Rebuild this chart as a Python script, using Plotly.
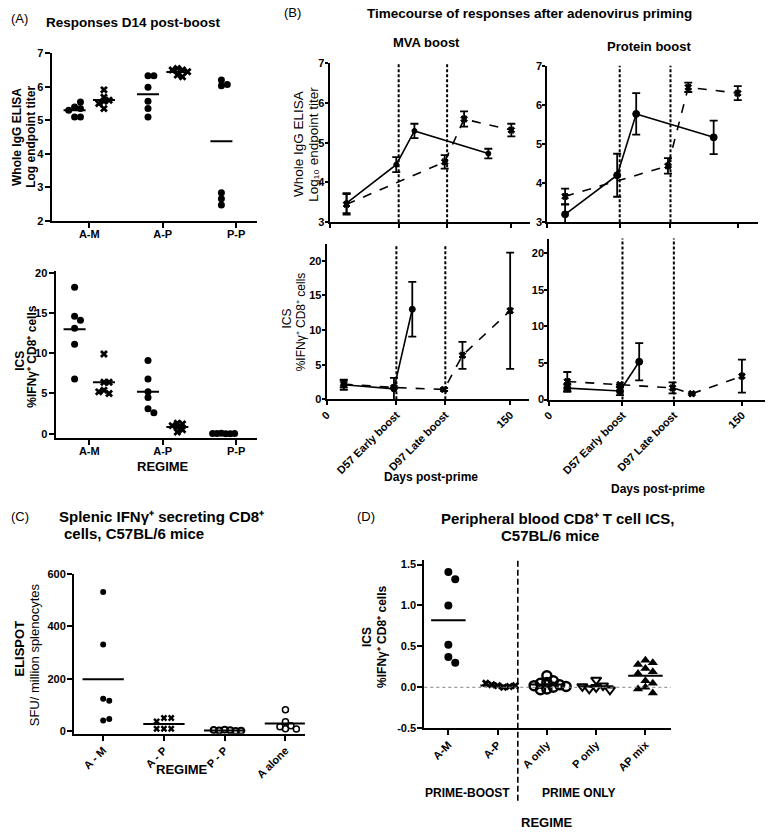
import plotly.graph_objects as go
import numpy as np

W, H = 768, 837
FONT = "Liberation Sans, Arial, sans-serif"

# ---------------- DATA ----------------
# Panel A: responses D14 post-boost
A_cats = ['A-M', 'A-P', 'P-P']
A_elisa_circ = [[5.40, 5.35, 5.30, 5.55, 5.10, 5.10],
                [6.33, 6.33, 5.99, 5.57, 5.35, 5.10],
                [6.20, 6.03, 6.07, 2.84, 2.66, 2.47]]
A_elisa_cross = [[5.91, 5.69, 5.60, 5.57, 5.50, 5.35],
                 [6.55, 6.50, 6.50, 6.45, 6.35, 6.30]]
A_ics_circ = [[18.2, 14.6, 14.1, 13.1, 11.1, 6.8],
              [9.1, 6.8, 5.2, 4.5, 3.1, 2.6],
              [0.05, 0.0, 0.02, 0.0, 0.03, 0.01]]
A_ics_cross = [[9.9, 6.4, 6.4, 5.4, 5.0, 5.2],
               [1.3, 1.2, 1.0, 0.8, 0.5, 0.2]]

# Panel B: timecourse
B_tick_days = [0, 57, 97, 150]
B_tick_text = ['0', 'D57 Early boost', 'D97 Late boost', '150']
B_boost_days = [57, 97]
early_days_elisa = [14, 55, 70, 131]
late_days_elisa = [14, 95, 111, 150]
mva_elisa_early = [3.48, 4.45, 5.30, 4.73]
mva_elisa_early_err = [0.25, 0.19, 0.18, 0.12]
mva_elisa_late = [3.45, 4.52, 5.60, 5.32]
mva_elisa_late_err = [0.26, 0.17, 0.19, 0.16]
prot_elisa_early = [3.20, 4.20, 5.77, 5.17]
prot_elisa_early_err = [0.25, 0.55, 0.53, 0.43]
prot_elisa_late = [3.66, 4.44, 6.45, 6.30]
prot_elisa_late_err = [0.20, 0.20, 0.12, 0.18]

early_days_ics = [14, 55, 70]
late_days_ics = [14, 55, 96, 111, 150]
mva_ics_early = [2.1, 1.5, 13.0]
mva_ics_early_err = [0.75, 1.6, 3.95]
mva_ics_late = [2.2, 1.7, 1.42, 6.35, 12.8]
mva_ics_late_err = [0.5, 0.0, 0.2, 1.95, 8.4]
prot_ics_early = [1.56, 1.17, 5.17]
prot_ics_early_err = [0.5, 0.55, 2.55]
prot_ics_late = [2.47, 2.05, 1.6, 0.8, 3.2]
prot_ics_late_err = [1.3, 0.0, 0.75, 0.0, 2.25]

# Panel C: ELISPOT
C_cats = ['A - M', 'A - P', 'P - P', 'A alone']
C_AM = [530, 330, 123, 116, 40, 46]
C_AP = [50, 50, 37, 9, 9, 9]
C_PP = [5, 3, 2, 0, 4, 1]
C_Aalone = [81, 36, 20, 17, 9, 8]

# Panel D: peripheral blood ICS
D_cats = ['A-M', 'A-P', 'A only', 'P only', 'AP mix']
D_AM = [1.41, 1.32, 1.00, 0.52, 0.37, 0.30]
D_AP = [0.02, 0.00, 0.03, 0.01, 0.05, 0.02]
D_Aonly = [0.14, 0.08, 0.06, 0.05, 0.03, 0.02, 0.01, 0.00, -0.02, -0.03]
D_Ponly = [0.09, 0.02, 0.00, -0.02, -0.03, 0.01]
D_APmix = [0.33, 0.30, 0.28, 0.23, 0.19, 0.17, 0.08, 0.05, 0.00, -0.02, -0.07]


# ---------------- HELPERS ----------------
def px(x):
    return x / W


def py(y):
    return 1 - y / H


def swarm(vals, thresh, step):
    offs = []
    for i, v in enumerate(vals):
        cands = [0.0]
        for k in range(1, 12):
            cands += [k * step, -k * step]
        for c in cands:
            ok = True
            for j in range(i):
                if abs(v - vals[j]) < thresh and abs(c - offs[j]) < step * 0.99:
                    ok = False
                    break
            if ok:
                offs.append(c)
                break
    return offs


fig = go.Figure()


def dots(ax, center, vals, symbol, size, thresh, step, lw, halfw):
    offs = swarm(vals, thresh, step)
    xs = [center + o for o in offs]
    fig.add_trace(go.Scatter(
        x=xs, y=vals, mode='markers', xaxis='x' + ax, yaxis='y' + ax,
        marker=dict(symbol=symbol, size=size, color='black',
                    line=dict(color='black', width=lw)),
        showlegend=False, hoverinfo='skip'))
    m = float(np.mean(vals))
    fig.add_trace(go.Scatter(
        x=[center - halfw, center + halfw], y=[m, m], mode='lines',
        xaxis='x' + ax, yaxis='y' + ax, line=dict(color='black', width=2),
        showlegend=False, hoverinfo='skip'))


def tline(ax, days, vals, errs, dash, symbol, size):
    fig.add_trace(go.Scatter(
        x=days, y=vals, mode='lines+markers', xaxis='x' + ax, yaxis='y' + ax,
        line=dict(color='black', width=1.6, dash=dash),
        marker=dict(symbol=symbol, size=size, color='black',
                    line=dict(color='black', width=1)),
        error_y=dict(type='data', array=errs, visible=True, color='black',
                     thickness=1.8, width=4),
        showlegend=False, hoverinfo='skip'))


# ---------------- PANEL A ----------------
for i in range(3):
    dots('', i + 1 - 0.2, A_elisa_circ[i], 'circle', 7, 0.15, 0.08, 0, 0.15)
for i in range(2):
    dots('', i + 1 + 0.2, A_elisa_cross[i], 'x', 7, 0.12, 0.07, 0, 0.15)
for i in range(3):
    dots('2', i + 1 - 0.2, A_ics_circ[i], 'circle', 7, 0.6, 0.06 if i == 2 else 0.08, 0, 0.15)
for i in range(2):
    dots('2', i + 1 + 0.2, A_ics_cross[i], 'x', 7, 0.5, 0.07, 0, 0.15)

# ---------------- PANEL B ----------------
tline('3', early_days_elisa, mva_elisa_early, mva_elisa_early_err, 'solid', 'circle', 5)
tline('3', late_days_elisa, mva_elisa_late, mva_elisa_late_err, 'dash', 'x', 6)
tline('4', early_days_elisa, prot_elisa_early, prot_elisa_early_err, 'solid', 'circle', 7)
tline('4', late_days_elisa, prot_elisa_late, prot_elisa_late_err, 'dash', 'x', 6)
tline('5', early_days_ics, mva_ics_early, mva_ics_early_err, 'solid', 'circle', 6)
tline('5', late_days_ics, mva_ics_late, mva_ics_late_err, 'dash', 'x', 6)
tline('6', early_days_ics, prot_ics_early, prot_ics_early_err, 'solid', 'circle', 7)
tline('6', late_days_ics, prot_ics_late, prot_ics_late_err, 'dash', 'x', 6)

shapes = []
for ax in ['3', '4', '5', '6']:
    for d in B_boost_days:
        shapes.append(dict(type='line', xref='x' + ax, yref='y' + ax + ' domain',
                           x0=d, x1=d, y0=0, y1=1,
                           line=dict(color='black', width=2, dash='3px,2px')))

# ---------------- PANEL C ----------------
dots('7', 1, C_AM, 'circle', 6, 22, 0.1, 0, 0.34)
dots('7', 2, C_AP, 'x', 6, 22, 0.12, 0, 0.34)
dots('7', 3, C_PP, 'circle-open', 6, 22, 0.09, 2, 0.34)
dots('7', 4, C_Aalone, 'circle-open', 6, 22, 0.09, 1.5, 0.34)

# ---------------- PANEL D ----------------
shapes.append(dict(type='line', xref='x8 domain', yref='y8', x0=0, x1=1, y0=0, y1=0,
                   line=dict(color='gray', width=1, dash='dot')))
dots('8', 1, D_AM, 'circle', 8, 0.1, 0.14, 0, 0.35)
dots('8', 2, D_AP, 'x', 7, 0.1, 0.12, 0, 0.35)
dots('8', 3, D_Aonly, 'circle-open', 9, 0.08, 0.13, 2.5, 0.35)
dots('8', 4, D_Ponly, 'triangle-down-open', 9, 0.08, 0.14, 2, 0.35)
dots('8', 5, D_APmix, 'triangle-up', 9, 0.08, 0.15, 0, 0.35)
shapes.append(dict(type='line', xref='x8', yref='y8 domain', x0=2.41, x1=2.41,
                   y0=-0.43, y1=1.0, line=dict(color='black', width=1.6, dash='6px,3px')))

# ---------------- AXES ----------------
tf = dict(family=FONT, size=11, color='black', weight='bold')
base = dict(showline=True, linecolor='black', linewidth=2, ticks='outside', ticklen=5,
            tickwidth=2, tickcolor='black', showgrid=False, zeroline=False,
            tickfont=tf, fixedrange=True, ticklabelstandoff=-1)


def xa(dom, rng, anchor, **kw):
    d = dict(base)
    d.update(domain=[px(dom[0]), px(dom[1])], range=rng, anchor=anchor)
    d.update(kw)
    return d


def ya(dom, rng, anchor, **kw):
    d = dict(base)
    d.update(domain=[py(dom[1]), py(dom[0])], range=rng, anchor=anchor)
    d.update(kw)
    return d


layout = dict(
    width=W, height=H, margin=dict(l=0, r=0, t=0, b=0, pad=0),
    paper_bgcolor='white', plot_bgcolor='white', showlegend=False,
    font=dict(family=FONT, color='black'),
    xaxis=xa((44, 252), [0.486, 3.29], 'y', tickvals=[1, 2, 3], ticktext=A_cats,
             ticklabelstandoff=-3),
    yaxis=ya((48, 218), [2, 7], 'x', tickvals=[2, 3, 4, 5, 6, 7]),
    xaxis2=xa((48, 252), [0.54, 3.29], 'y2', tickvals=[1, 2, 3], ticktext=A_cats,
              ticklabelstandoff=-3),
    yaxis2=ya((269, 438), [-0.5, 20.2], 'x2', tickvals=[0, 5, 10, 15, 20]),
    xaxis3=xa((325, 527), [0, 165], 'y3', tickvals=B_tick_days, showticklabels=False,
              ticklen=4),
    yaxis3=ya((58.3, 219.3), [3, 7], 'x3', tickvals=[3, 4, 5, 6, 7], ticklen=3,
              ticklabelstandoff=-2),
    xaxis4=xa((545, 758), [0, 166], 'y4', tickvals=B_tick_days, showticklabels=False,
              ticklen=4),
    yaxis4=ya((60.7, 219.3), [3, 7], 'x4', tickvals=[3, 4, 5, 6, 7], ticklen=3,
              ticklabelstandoff=-2),
    xaxis5=xa((322, 526), [0, 165], 'y5', tickvals=B_tick_days, ticktext=B_tick_text,
              tickangle=-45, ticklen=4),
    yaxis5=ya((241.7, 399), [0, 22.4], 'x5', tickvals=[0, 5, 10, 15, 20], ticklen=3,
              ticklabelstandoff=-2),
    xaxis6=xa((547, 765), [0, 168], 'y6', tickvals=B_tick_days, ticktext=B_tick_text,
              tickangle=-45, ticklen=4),
    yaxis6=ya((236, 399.3), [0, 22], 'x6', tickvals=[0, 5, 10, 15, 20], ticklen=3,
              ticklabelstandoff=-2),
    xaxis7=xa((66.7, 300), [0.52, 4.32], 'y7', tickvals=[1, 2, 3, 4], ticktext=C_cats,
              tickangle=-45),
    yaxis7=ya((576, 738.3), [-10, 600], 'x7', tickvals=[0, 200, 400, 600]),
    xaxis8=xa((420.7, 670), [0.512, 5.52], 'y8', tickvals=[1, 2, 3, 4, 5], ticktext=D_cats,
              tickangle=-45),
    yaxis8=ya((561.7, 732.7), [-0.5, 1.56], 'x8', tickvals=[-0.5, 0, 0.5, 1, 1.5],
              ticktext=['-0.5', '0.0', '0.5', '1.0', '1.5']),
    shapes=shapes,
)
fig.update_layout(**layout)

# ---------------- TEXT ----------------
ann = []


def text(x, y, t, size=13, bold=False, angle=0, xanchor='center'):
    ann.append(dict(x=px(x), y=py(y), xref='paper', yref='paper', text=t,
                    showarrow=False, textangle=angle, xanchor=xanchor, yanchor='middle',
                    align=xanchor if xanchor != 'center' else 'center',
                    font=dict(family=FONT, size=size, color='black',
                              weight='bold' if bold else 'normal')))


ICS_LABEL = '%IFNγ⁺ CD8⁺ cells'

# Panel A
text(1, 13, '(A)', 13, xanchor='left')
text(127, 17, 'Responses D14 post-boost', 13.5, True)
text(9, 133, 'Whole IgG ELISA', 12, True, -90)
text(23, 133, 'Log endpoint titer', 12, True, -90)
text(12, 360, 'ICS', 12, True, -90)
text(24, 356, ICS_LABEL, 12, True, -90)
text(157, 467, 'REGIME', 13, True)

# Panel B
text(287, 7, '(B)', 13)
text(527, 8, 'Timecourse of responses after adenovirus priming', 13.5, True)
text(423, 37, 'MVA boost', 13, True)
text(648, 41, 'Protein boost', 13, True)
text(294, 140, 'Whole IgG ELISA', 13.5, False, -90)
text(309, 140, 'Log₁₀ endpoint titer', 13.5, False, -90)
text(282, 317, 'ICS', 12, False, -90)
text(297, 320, ICS_LABEL, 12, False, -90)
text(427, 478, 'Days post-prime', 12, True)
text(657, 490, 'Days post-prime', 12, True)

# Panel C
text(1, 518, '(C)', 13, xanchor='left')
text(50, 518, 'Splenic IFNγ⁺ secreting CD8⁺', 15, True, xanchor='left')
text(55, 535, 'cells, C57BL/6 mice', 15, True, xanchor='left')
text(12, 652, 'ELISPOT', 13, True, -90)
text(27, 658, 'SFU/ million splenocytes', 13, False, -90)
text(176, 775, 'REGIME', 13, True)

# Panel D
text(362, 518, '(D)', 13)
text(555, 520, 'Peripheral blood CD8⁺ T cell ICS,', 15, True)
text(548, 537, 'C57BL/6 mice', 15, True)
text(363, 640, 'ICS', 12, True, -90)
text(378, 640, ICS_LABEL, 12, True, -90)
text(464, 798, 'PRIME-BOOST', 12, True)
text(577, 798, 'PRIME ONLY', 12, True)
text(545, 828, 'REGIME', 13, True)

fig.update_layout(annotations=ann)
fig.write_html("out.html", config={'displayModeBar': False},
               post_script="document.body.style.margin='0';document.body.style.padding='0';")
